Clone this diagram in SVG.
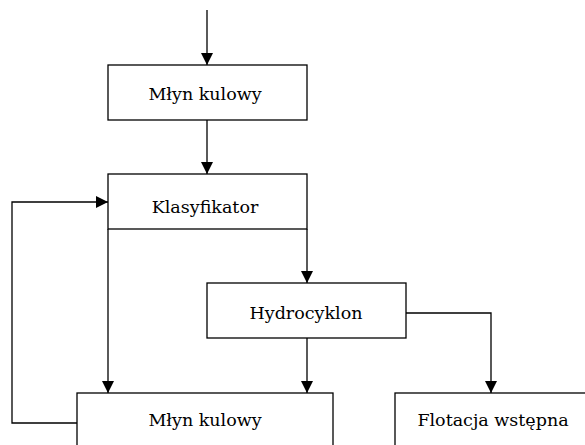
<svg xmlns="http://www.w3.org/2000/svg" width="585" height="445" viewBox="0 0 585 445">
<defs>
<marker id="ah" markerWidth="12" markerHeight="13" refX="12" refY="6" orient="auto" markerUnits="userSpaceOnUse">
<path d="M0,0 L12,6 L0,12 Z" fill="#000"/>
</marker>
<style>
.box{fill:#fff;stroke:#000;stroke-width:1.3}
.t{font-family:"DejaVu Serif",serif;font-size:17.5px;fill:#000;text-anchor:middle}
.c{fill:none;stroke:#000;stroke-width:1.3}
</style>
</defs>
<rect width="585" height="445" fill="#fff"/>
<g id="mlyn1"><rect class="box" x="108" y="65" width="199" height="55"/><text class="t" x="205" y="100">Młyn kulowy</text></g>
<g id="klasyfikator"><rect class="box" x="108" y="174" width="199" height="55"/><text class="t" x="205" y="213">Klasyfikator</text></g>
<g id="hydrocyklon"><rect class="box" x="207" y="283" width="199" height="55"/><text class="t" x="306" y="319">Hydrocyklon</text></g>
<g id="mlyn2"><rect class="box" x="77" y="393" width="256" height="70"/><text class="t" x="205" y="426">Młyn kulowy</text></g>
<g id="flotacja"><rect class="box" x="395" y="393" width="210" height="70"/><text class="t" x="493" y="426">Flotacja wstępna</text></g>
<g id="connectors">
<path class="c" d="M207,10 V65" marker-end="url(#ah)"/>
<path class="c" d="M207,120 V174" marker-end="url(#ah)"/>
<path class="c" d="M108,229 V393" marker-end="url(#ah)"/>
<path class="c" d="M307,229 V283" marker-end="url(#ah)"/>
<path class="c" d="M307,338 V393" marker-end="url(#ah)"/>
<path class="c" d="M406,313 H491 V393" marker-end="url(#ah)"/>
<path class="c" d="M77,423 H12 V202 H108" marker-end="url(#ah)"/>
</g>
</svg>
